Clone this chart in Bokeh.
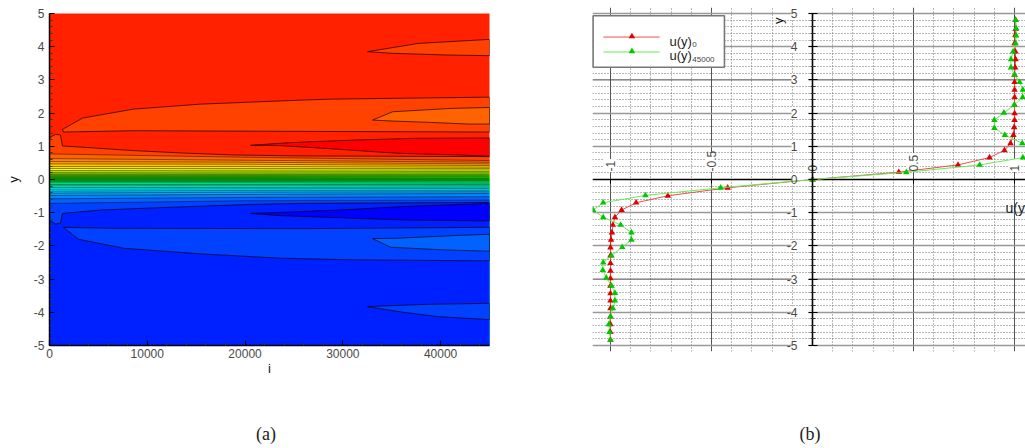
from bokeh.core.properties import value
from bokeh.embed import file_html
from bokeh.layouts import column, row
from bokeh.models import Div, FixedTicker, Grid, LinearAxis, Range1d, Span
from bokeh.plotting import figure
from bokeh.resources import INLINE

# ---------- panel (a): contour levels, colour index k in 0..31 ----------
STATIONS = [0, 20000, 45000]
CENTRAL_K = [29, 28, 27, 26, 25, 24, 23, 22, 21, 20, 19, 18, 17, 16, 15, 14, 13, 12, 11, 10, 9, 8, 7, 6, 5, 4, 3]
CENTRAL_LEFT = [.77, .63, .54, .47, .39, .33, .27, .22, .19, .15, .12, .09, .06, .03, 0, -.03, -.06, -.10, -.15, -.19, -.24, -.29, -.35, -.41, -.48, -.58, -.72]
CENTRAL_MID = [.67, .58, .52, .46, .39, .33, .28, .23, .19, .15, .12, .09, .06, .03, 0, -.03, -.06, -.10, -.15, -.19, -.24, -.28, -.33, -.38, -.45, -.54, -.64]
CENTRAL_RIGHT = [.57, .52, .47, .42, .37, .33, .29, .24, .20, .16, .13, .10, .07, .03, 0, -.03, -.07, -.11, -.15, -.19, -.23, -.27, -.32, -.37, -.42, -.52, -.62]

UPPER_I = [0, 100, 610, 1120, 1330, 3480, 8590, 14100, 18800, 23300, 25700, 45000]
UPPER_Y = [1.22, 1.28, 1.36, 1.34, 1.01, .97, .87, .79, .74, .72, .71, .69]
LOWER_I = [0, 610, 1120, 1330, 5220, 12070, 20560, 25680, 45000]
LOWER_Y = [-1.22, -1.34, -1.32, -1.02, -.92, -.84, -.75, -.72, -.69]

LOBES = {
    "A": (29, [1330, 3380, 8590, 15450, 25680, 28750, 36620, 45000, 45000, 25370, 8590, 1430],
          [1.51, 1.85, 2.12, 2.27, 2.39, 2.42, 2.45, 2.48, 1.43, 1.45, 1.47, 1.43]),
    "B": (28, [33040, 35090, 41020, 45000, 45000, 42870, 38980, 35090],
          [1.79, 2.04, 2.14, 2.17, 1.67, 1.67, 1.72, 1.76]),
    "C": (29, [32530, 37750, 45000, 45000, 40710, 35090],
          [3.85, 4.10, 4.22, 3.73, 3.75, 3.80]),
    "D": (31, [20560, 23630, 24650, 27010, 31500, 37240, 45000, 45000, 41740, 35600, 28030, 23630],
          [1.03, 1.09, 1.11, 1.14, 1.19, 1.24, 1.25, .70, .74, .79, .94, 1.02]),
    "E": (2, [1430, 6550, 25680, 31100, 45000, 45000, 31100, 23630, 15450, 7570, 2970],
          [-1.44, -1.47, -1.48, -1.47, -1.44, -2.45, -2.42, -2.37, -2.24, -2.07, -1.80]),
    "F": (3, [33040, 35600, 41330, 45000, 45000, 40300, 34880],
          [-1.78, -1.77, -1.69, -1.65, -2.16, -2.12, -2.04]),
    "G": (2, [32530, 38670, 45000, 45000, 39690, 36210],
          [-3.83, -3.76, -3.73, -4.22, -4.13, -4.00]),
    "H": (0, [20560, 23630, 29460, 37240, 45000, 45000, 36210, 23630],
          [-1.02, -.99, -.92, -.80, -.72, -1.25, -1.22, -1.09]),
}

A_XTICKS = [0, 10000, 20000, 30000, 40000]
A_XMINOR = [2000, 4000, 6000, 8000, 12000, 14000, 16000, 18000, 22000, 24000, 26000, 28000, 32000, 34000, 36000, 38000, 42000, 44000]
Y_TICKS = [-5, -4, -3, -2, -1, 0, 1, 2, 3, 4, 5]
Y_MINOR = [k / 5 for k in range(-24, 25) if k % 5]
Y_LABELS = {t: str(t) for t in Y_TICKS}

# ---------- panel (b): velocity profiles ----------
Y_RED = [-4.83, -4.6, -4.36, -4.13, -3.88, -3.65, -3.43, -3.2, -2.98, -2.75, -2.52, -2.29, -2.05, -1.82, -1.6, -1.37, -1.14, -.92, -.70, -.49, -.25, 0,
         .22, .44, .66, .88, 1.09, 1.34, 1.57, 1.79, 1.99, 2.24, 2.48, 2.70, 2.93, 3.15, 3.37, 3.62, 3.85, 4.10, 4.35, 4.53, 4.80]
U_RED = [-1.0, -1.0, -1.0, -1.0, -1.0, -1.0, -1.0, -1.0, -1.0, -1.0, -1.0, -1.0, -1.0, -.997, -.993, -.988, -.978, -.945, -.873, -.716, -.42, 0,
         .427, .72, .876, .95, .98, .994, .998, 1.0, 1.0, 1.0, 1.0, 1.0, 1.0, 1.0, 1.003, 1.005, 1.004, 1.0, 1.004, 1.005, 1.005]
Y_GREEN = [-4.83, -4.6, -4.36, -4.13, -3.88, -3.65, -3.42, -3.2, -2.96, -2.73, -2.5, -2.29, -2.04, -1.82, -1.6, -1.37, -1.14, -.92, -.70, -.48, -.25, 0,
           .217, .437, .66, .88, 1.09, 1.34, 1.55, 1.79, 2.01, 2.24, 2.48, 2.70, 2.93, 3.15, 3.37, 3.62, 3.85, 4.10, 4.33, 4.55, 4.80]
U_GREEN = [-1.0, -1.005, -1.008, -1.0, -.988, -.978, -.978, -.995, -1.021, -1.038, -1.036, -.995, -.942, -.896, -.896, -.95, -1.036, -1.086, -1.036, -.827, -.455, 0,
           .464, .827, 1.041, 1.13, 1.038, .952, .90, .90, .947, .998, 1.04, 1.041, 1.025, 1.0, .982, .982, .992, 1.005, 1.008, 1.008, 1.005]
U_TICKS = [-1, -0.5, 0, 0.5, 1]
U_LABELS = {-1: "-1", -0.5: "-0.5", 0: "0", 0.5: "0.5", 1: "1"}
U_MINOR = [k / 10 for k in range(-10, 11) if k % 5]
DARK_ROWS = [3, -3]
SERIES_NAMES = ["u(y)", "u(y)"]
SERIES_SUBS = ["0", "45000"]

FONT = "Liberation Sans"
TICK_COL = "#4a4a4a"


def rainbow(k):
    t = k / 31
    if t < .25:
        r, g, b = 0, t / .25, 1
    elif t < .5:
        r, g, b = 0, 1, 1 - (t - .25) / .25
    elif t < .75:
        r, g, b = (t - .5) / .25, 1, 0
    else:
        r, g, b = 1, 1 - (t - .75) / .25, 0
    return "#%02x%02x%02x" % (round(r * 255), round(g * 255), round(b * 255))


def style_axis(ax):
    ax.major_label_text_font = FONT
    ax.major_label_text_font_size = "12px"
    ax.major_label_text_color = TICK_COL
    ax.axis_label_text_font = FONT
    ax.axis_label_text_font_size = "13px"
    ax.axis_label_text_font_style = "normal"
    ax.axis_label_text_color = "#111111"
    ax.axis_line_color = "black"
    ax.major_tick_line_color = "black"
    ax.minor_tick_line_color = "#333333"


def caption(text, width, margin_left):
    return Div(text=text, width=width, height=28, margin=(0, 0, 0, margin_left),
               styles={"font-family": "Liberation Serif", "font-size": "18px", "line-height": "28px",
                       "text-align": "center", "color": "#222222"})


# ---------- figure (a) ----------
a = figure(width=568, height=420, output_backend="svg", toolbar_location=None,
           x_range=Range1d(0, 45000), y_range=Range1d(-5, 5), frame_align=False, margin=0,
           min_border_left=49, min_border_right=79, min_border_top=13, min_border_bottom=75)
a.outline_line_color = None
a.grid.visible = False
a.background_fill_color = rainbow(30)
a.border_fill_color = "white"

LINE = dict(line_color="#100000", line_width=0.8, line_alpha=0.85)
THIN = dict(line_color="#100000", line_width=0.6, line_alpha=0.78)


def level(xs, ys, k):
    a.varea(x=xs, y1=[-5] * len(xs), y2=ys, fill_color=rainbow(k))


level(UPPER_I, UPPER_Y, 29)
for j, k in enumerate(CENTRAL_K):
    level(STATIONS, [CENTRAL_LEFT[j], CENTRAL_MID[j], CENTRAL_RIGHT[j]], k - 1)
level(LOWER_I, LOWER_Y, 1)
a.line(UPPER_I, UPPER_Y, **LINE)
for j in range(len(CENTRAL_K)):
    a.line(STATIONS, [CENTRAL_LEFT[j], CENTRAL_MID[j], CENTRAL_RIGHT[j]], **THIN)
a.line(LOWER_I, LOWER_Y, **LINE)
for name, (k, xs, ys) in LOBES.items():
    a.patch(xs, ys, fill_color=rainbow(k), **LINE)

xax = a.xaxis[0]
yax = a.yaxis[0]
xax.ticker = FixedTicker(ticks=A_XTICKS, minor_ticks=A_XMINOR)
yax.ticker = FixedTicker(ticks=Y_TICKS, minor_ticks=Y_MINOR)
yax.major_label_overrides = Y_LABELS
xax.axis_label = "i"
yax.axis_label = "y"
for ax in (xax, yax):
    style_axis(ax)
    ax.axis_line_width = 1.5
    ax.major_tick_in = 5
    ax.major_tick_out = 0
    ax.minor_tick_in = 3
    ax.minor_tick_out = 0
    ax.major_tick_line_width = 1.2
xax.major_label_standoff = 3
xax.axis_label_standoff = 0
yax.major_label_standoff = 5
yax.axis_label_standoff = 10

# ---------- figure (b) ----------
b = figure(width=457, height=420, output_backend="svg", toolbar_location=None,
           x_range=Range1d(-1.089, 1.054), y_range=Range1d(-5.18, 5.18), frame_align=False, margin=0,
           x_axis_type=None, y_axis_type=None,
           min_border_left=24, min_border_right=0, min_border_top=7, min_border_bottom=69)
b.outline_line_color = None

u_tick = FixedTicker(ticks=[t for t in U_TICKS if t != 0], minor_ticks=U_MINOR)
y_tick = FixedTicker(ticks=[t for t in Y_TICKS if t != 0 and t not in DARK_ROWS], minor_ticks=Y_MINOR)
b.add_layout(Grid(dimension=0, ticker=u_tick, bounds=(-5, 5), grid_line_color="#555555", grid_line_width=1,
                  minor_grid_line_color="#707070", minor_grid_line_dash="1 2", minor_grid_line_width=1))
b.add_layout(Grid(dimension=1, ticker=y_tick, grid_line_color="#999999", grid_line_width=1.6,
                  minor_grid_line_color="#707070", minor_grid_line_dash="1 2", minor_grid_line_width=1))
for r in DARK_ROWS:
    b.add_layout(Span(location=r, dimension="width", line_color="#444444", line_width=1, level="underlay"))
b.add_layout(Span(location=0, dimension="width", line_color="black", line_width=1.4, level="underlay"))

# white patches behind the tick labels break the grid lines, as in the reference
b.rect(x=U_TICKS, y=[.42, .51, .35, .51, .42], width=13, width_units="screen",
       height=[.39, .57, .25, .57, .39], fill_color="white", line_color=None)
b.rect(x=[-.062] * len(Y_TICKS), y=Y_TICKS, width=17, width_units="screen",
       height=12, height_units="screen", fill_color="white", line_color=None)

b.line(U_RED, Y_RED, line_color="#e85050", line_width=1)
b.scatter(U_RED, Y_RED, marker="triangle", size=6.5, fill_color="#e00000", line_color="#e00000", line_width=0)
b.line(U_GREEN, Y_GREEN, line_color="#66ee55", line_width=1)
b.scatter(U_GREEN, Y_GREEN, marker="triangle", size=6.5, fill_color="#00c800", line_color="#00c800", line_width=0)

uax = LinearAxis(fixed_location=0, ticker=FixedTicker(ticks=U_TICKS), major_label_overrides=U_LABELS)
style_axis(uax)
uax.axis_line_color = None
uax.major_tick_in = 4
uax.major_tick_out = 0
uax.major_label_orientation = "vertical"
uax.major_label_standoff = 8
b.add_layout(uax, "above")

vax = LinearAxis(fixed_location=0, bounds=(-5, 5), ticker=FixedTicker(ticks=Y_TICKS, minor_ticks=Y_MINOR), major_label_overrides=Y_LABELS)
style_axis(vax)
vax.axis_line_width = 1.6
vax.major_tick_in = 5
vax.major_tick_out = 4
vax.minor_tick_in = 3
vax.minor_tick_out = 2
vax.major_label_standoff = 11
b.add_layout(vax, "left")

b.text(x=[-.168], y=[4.78], text=["y"], angle=1.5708, text_align="center", text_baseline="middle",
       text_font=value(FONT), text_font_size="13px", text_color="#111111")
b.text(x=[.955], y=[-.86], text=["u(y"], text_align="left", text_baseline="alphabetic",
       text_font=value(FONT), text_font_size="14px", text_color="#222222")

# legend box
b.quad(left=[-1.086], right=[-.436], top=[4.93], bottom=[3.38], fill_color="white",
       line_color="#777777", line_width=1.6, level="overlay")
LEG_Y = [4.29, 3.84]
LEG_COL = ["#e85050", "#66ee55"]
LEG_MARK = ["#e00000", "#00c800"]
LEG_TXT_Y = [4.17, 3.73]
LEG_SUB_Y = [4.08, 3.62]
for j in range(2):
    b.line([-1.035, -.757], [LEG_Y[j]] * 2, line_color=LEG_COL[j], line_width=1, level="overlay")
    b.scatter([-.894], [LEG_Y[j] + .02], marker="triangle", size=6.5, fill_color=LEG_MARK[j], line_width=0, level="overlay")
    b.text(x=[-.708], y=[LEG_TXT_Y[j]], text=[SERIES_NAMES[j]], text_baseline="alphabetic", level="overlay",
           text_font=value(FONT), text_font_size="13px", text_color="#222222")
    b.text(x=[-.595], y=[LEG_SUB_Y[j]], text=[SERIES_SUBS[j]], text_baseline="alphabetic", level="overlay",
           text_font=value(FONT), text_font_size="8px", text_color="#444444")

layout = column(row(a, b, spacing=0), row(caption("(a)", 532, 0), caption("(b)", 40, 258), spacing=0), spacing=0)
open("out.html", "w").write(file_html(layout, INLINE))
